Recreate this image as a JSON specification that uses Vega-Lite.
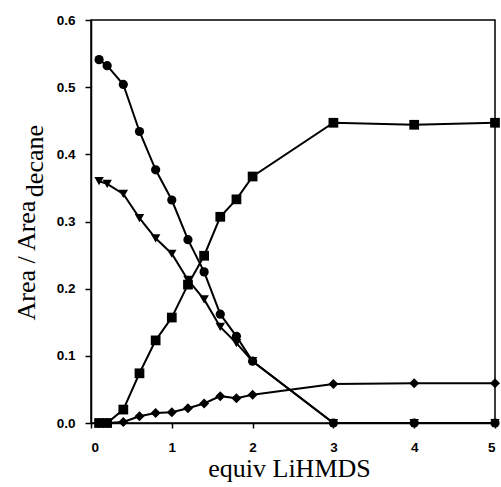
{
  "$schema": "https://vega.github.io/schema/vega-lite/v6.json",
  "width": 404,
  "height": 403,
  "autosize": {"type": "none"},
  "padding": {"left": 91, "top": 20, "right": 6, "bottom": 64},
  "background": "white",
  "config": {
    "view": {"stroke": "black", "strokeWidth": 1.5},
    "axis": {
      "grid": false,
      "domainColor": "black",
      "domainWidth": 1.5,
      "tickColor": "black",
      "tickWidth": 1.5,
      "tickSize": 5,
      "labelFont": "Liberation Sans",
      "labelFontWeight": "bold",
      "labelFontSize": 13.5,
      "labelColor": "black",
      "titleFont": "Liberation Serif",
      "titleFontWeight": "normal",
      "titleFontSize": 26,
      "titleColor": "black"
    }
  },
  "data": {
    "values": [
      {"series": "D", "x": 0.1, "y": 0.0},
      {"series": "D", "x": 0.2, "y": 0.0},
      {"series": "D", "x": 0.4, "y": 0.0015},
      {"series": "D", "x": 0.6, "y": 0.010},
      {"series": "D", "x": 0.8, "y": 0.015},
      {"series": "D", "x": 1.0, "y": 0.016},
      {"series": "D", "x": 1.2, "y": 0.022},
      {"series": "D", "x": 1.4, "y": 0.029},
      {"series": "D", "x": 1.6, "y": 0.040},
      {"series": "D", "x": 1.8, "y": 0.037},
      {"series": "D", "x": 2.0, "y": 0.042},
      {"series": "D", "x": 3.0, "y": 0.058},
      {"series": "D", "x": 4.0, "y": 0.059},
      {"series": "D", "x": 5.0, "y": 0.059},
      {"series": "C", "x": 0.1, "y": 0.0},
      {"series": "C", "x": 0.2, "y": 0.0},
      {"series": "C", "x": 0.4, "y": 0.020},
      {"series": "C", "x": 0.6, "y": 0.074},
      {"series": "C", "x": 0.8, "y": 0.123},
      {"series": "C", "x": 1.0, "y": 0.157},
      {"series": "C", "x": 1.2, "y": 0.206},
      {"series": "C", "x": 1.4, "y": 0.249},
      {"series": "C", "x": 1.6, "y": 0.307},
      {"series": "C", "x": 1.8, "y": 0.333},
      {"series": "C", "x": 2.0, "y": 0.367},
      {"series": "C", "x": 3.0, "y": 0.447},
      {"series": "C", "x": 4.0, "y": 0.444},
      {"series": "C", "x": 5.0, "y": 0.447},
      {"series": "B", "x": 0.1, "y": 0.360},
      {"series": "B", "x": 0.2, "y": 0.356},
      {"series": "B", "x": 0.4, "y": 0.341},
      {"series": "B", "x": 0.6, "y": 0.305},
      {"series": "B", "x": 0.8, "y": 0.275},
      {"series": "B", "x": 1.0, "y": 0.252},
      {"series": "B", "x": 1.2, "y": 0.213},
      {"series": "B", "x": 1.4, "y": 0.184},
      {"series": "B", "x": 1.6, "y": 0.143},
      {"series": "B", "x": 1.8, "y": 0.119},
      {"series": "B", "x": 2.0, "y": 0.092},
      {"series": "B", "x": 3.0, "y": 0.0},
      {"series": "B", "x": 4.0, "y": 0.0},
      {"series": "B", "x": 5.0, "y": 0.0},
      {"series": "A", "x": 0.1, "y": 0.541},
      {"series": "A", "x": 0.2, "y": 0.532},
      {"series": "A", "x": 0.4, "y": 0.504},
      {"series": "A", "x": 0.6, "y": 0.434},
      {"series": "A", "x": 0.8, "y": 0.377},
      {"series": "A", "x": 1.0, "y": 0.332},
      {"series": "A", "x": 1.2, "y": 0.273},
      {"series": "A", "x": 1.4, "y": 0.225},
      {"series": "A", "x": 1.6, "y": 0.162},
      {"series": "A", "x": 1.8, "y": 0.129},
      {"series": "A", "x": 2.0, "y": 0.092},
      {"series": "A", "x": 3.0, "y": 0.0},
      {"series": "A", "x": 4.0, "y": 0.0},
      {"series": "A", "x": 5.0, "y": 0.0}
    ]
  },
  "layer": [
    {
      "mark": {"type": "line", "color": "black", "strokeWidth": 2},
      "encoding": {
        "x": {
          "field": "x", "type": "quantitative",
          "scale": {"domain": [0, 5], "nice": false, "zero": false},
          "axis": {
            "values": [0, 1, 2, 3, 4, 5],
            "format": "d",
            "labelPadding": 12,
            "title": "equiv LiHMDS",
            "titleX": 198,
            "titleY": 53,
            "titleBaseline": "alphabetic"
          }
        },
        "y": {
          "field": "y", "type": "quantitative",
          "scale": {"domain": [0, 0.6], "nice": false},
          "axis": {
            "values": [0, 0.1, 0.2, 0.3, 0.4, 0.5, 0.6],
            "format": ".1f",
            "tickSize": 6,
            "labelPadding": 10,
            "title": "Area / Area",
            "titleAngle": 270,
            "titleAlign": "center",
            "titleBaseline": "alphabetic",
            "titleX": -57,
            "titleY": 240
          }
        },
        "detail": {"field": "series"}
      }
    },
    {
      "mark": {"type": "point", "filled": true, "opacity": 1, "color": "black"},
      "encoding": {
        "x": {"field": "x", "type": "quantitative"},
        "y": {"field": "y", "type": "quantitative"},
        "shape": {
          "field": "series", "type": "nominal",
          "scale": {"domain": ["A", "B", "C", "D"], "range": ["circle", "triangle-down", "square", "diamond"]},
          "legend": null
        },
        "size": {
          "field": "series", "type": "nominal",
          "scale": {"domain": ["A", "B", "C", "D"], "range": [85, 100, 80, 120]},
          "legend": null
        }
      }
    },
    {
      "data": {"values": [{"label": "decane", "x": -0.6, "y": 0.39}]},
      "mark": {"type": "text", "angle": 270, "align": "center", "baseline": "alphabetic", "font": "Liberation Serif", "fontSize": 26, "color": "black"},
      "encoding": {
        "x": {"field": "x", "type": "quantitative"},
        "y": {"field": "y", "type": "quantitative"},
        "text": {"field": "label"}
      }
    }
  ]
}
